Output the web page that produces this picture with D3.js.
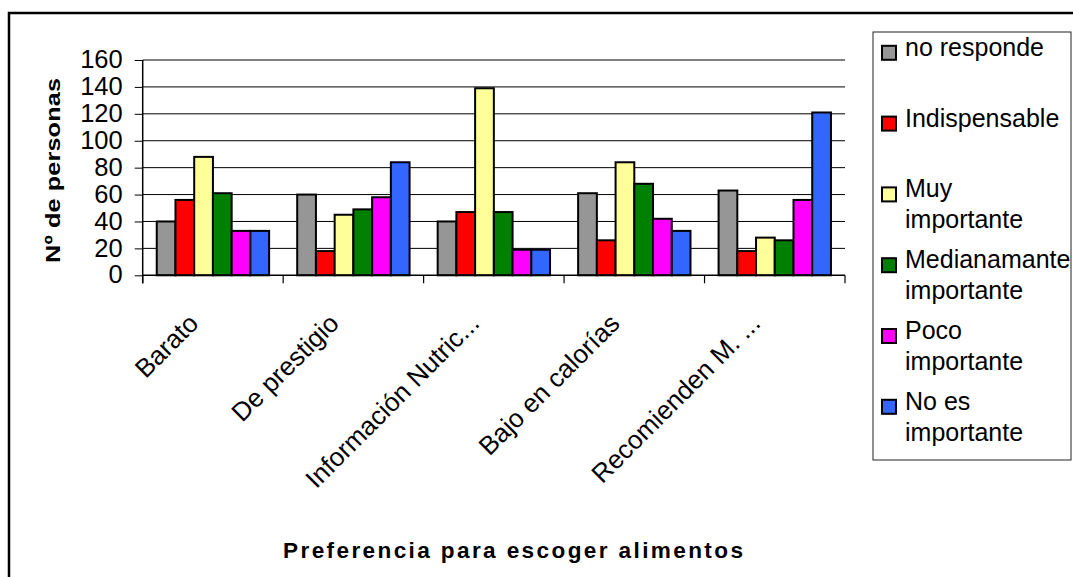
<!DOCTYPE html>
<html>
<head>
<meta charset="utf-8">
<script src="https://cdn.jsdelivr.net/npm/d3@7"></script>
<style>
  html, body { margin: 0; padding: 0; background: #fff; }
  svg { display: block; font-family: "Liberation Sans", Arial, sans-serif; }
</style>
</head>
<body>
<svg id="chart" width="1073" height="577"></svg>
<script>
// Categories (reasons for choosing food) and the answer series
const categories = ["Barato", "De prestigio", "Información Nutric...", "Bajo en calorías", "Recomienden M. ..."];
const seriesNames = ["no responde", "Indispensable", "Muy importante", "Medianamante importante", "Poco importante", "No es importante"];
const seriesColors = ["#969696", "#ff0000", "#ffff99", "#008000", "#ff00ff", "#3366ff"];

const noResponde     = [40, 60, 40, 61, 63];
const indispensable  = [56, 18, 47, 26, 18];
const muyImportante  = [88, 45, 139, 84, 28];
const medianamente   = [61, 49, 47, 68, 26];
const pocoImportante = [33, 58, 19, 42, 56];
const noEsImportante = [33, 84, 19, 33, 121];

const yTicks = [0, 20, 40, 60, 80, 100, 120, 140, 160];
const yTitle = "Nº de personas";
const xTitle = "Preferencia para escoger alimentos";

const seriesValues = [noResponde, indispensable, muyImportante, medianamente, pocoImportante, noEsImportante];
const rows = categories.map((c, i) => ({
  cat: c,
  vals: seriesNames.map((s, j) => ({ key: s, value: seriesValues[j][i], color: seriesColors[j] }))
}));

const svg = d3.select("#chart");
const fontSize = 25;

// outer chart frame
svg.append("rect")
  .attr("x", 9).attr("y", 13).attr("width", 1100).attr("height", 600)
  .attr("fill", "none").attr("stroke", "#000").attr("stroke-width", 2.5);

const plot = { left: 142.7, right: 845, top: 60, bottom: 275.3 };

const x0 = d3.scaleBand().domain(categories).range([plot.left, plot.right]).padding(0);
const x1 = d3.scaleBand().domain(seriesNames).range([0, x0.bandwidth()]).paddingInner(0).paddingOuter(0.75);
const y = d3.scaleLinear().domain([0, 160]).range([plot.bottom, plot.top]);

// horizontal gridlines
svg.append("g").selectAll("line").data(yTicks.filter(d => d > 0)).join("line")
  .attr("x1", plot.left).attr("x2", plot.right)
  .attr("y1", d => y(d)).attr("y2", d => y(d))
  .attr("stroke", "#000").attr("stroke-width", 1);

// value axis
const yAxis = svg.append("g")
  .attr("transform", `translate(${plot.left},0)`)
  .call(d3.axisLeft(y).tickValues(yTicks).tickSize(8).tickPadding(12).tickFormat(d3.format("d")));
yAxis.select(".domain").remove();
yAxis.selectAll(".tick line").attr("stroke", "#000");
yAxis.selectAll(".tick text")
  .attr("font-family", "Liberation Sans, Arial, sans-serif")
  .attr("font-size", 25.5).attr("fill", "#000").attr("dy", "0.3em");

// bars
const groups = svg.append("g").selectAll("g").data(rows).join("g")
  .attr("transform", d => `translate(${x0(d.cat)},0)`);
groups.selectAll("rect").data(d => d.vals).join("rect")
  .attr("x", d => x1(d.key))
  .attr("y", d => y(d.value))
  .attr("width", x1.bandwidth())
  .attr("height", d => y(0) - y(d.value))
  .attr("fill", d => d.color)
  .attr("stroke", "#000").attr("stroke-width", 2);

// axis lines
svg.append("line")
  .attr("x1", plot.left).attr("x2", plot.left)
  .attr("y1", plot.top).attr("y2", plot.bottom + 8)
  .attr("stroke", "#000").attr("stroke-width", 1.5);
svg.append("line")
  .attr("x1", plot.left).attr("x2", plot.right)
  .attr("y1", plot.bottom).attr("y2", plot.bottom)
  .attr("stroke", "#000").attr("stroke-width", 1.5);

// category boundary ticks
const boundaries = categories.map(c => x0(c)).concat([x0(categories[categories.length - 1]) + x0.bandwidth()]);
svg.append("g").selectAll("line").data(boundaries).join("line")
  .attr("x1", d => d).attr("x2", d => d)
  .attr("y1", plot.bottom).attr("y2", plot.bottom + 8)
  .attr("stroke", "#000").attr("stroke-width", 1.2);

// rotated category labels
svg.append("g").selectAll("text").data(categories).join("text")
  .attr("transform", d => `translate(${x0(d) + x0.bandwidth() / 2 - 13},325) rotate(-45)`)
  .attr("text-anchor", "end")
  .attr("font-size", 26)
  .attr("fill", "#000")
  .text(d => d);

// axis titles (wide bold lettering)
svg.append("text")
  .attr("transform", "translate(60,170.5) rotate(-90) scale(1.2,1)")
  .attr("text-anchor", "middle")
  .attr("font-size", 21).attr("font-weight", "bold")
  .attr("textLength", 154).attr("lengthAdjust", "spacing")
  .text(yTitle);

svg.append("text")
  .attr("transform", "translate(513,558) scale(1.05,1)")
  .attr("text-anchor", "middle")
  .attr("font-size", 21.5).attr("font-weight", "bold")
  .attr("textLength", 438).attr("lengthAdjust", "spacing")
  .text(xTitle);

// legend
const legend = svg.append("g");
legend.append("rect")
  .attr("x", 873).attr("y", 32).attr("width", 198).attr("height", 428)
  .attr("fill", "#fff").attr("stroke", "#222").attr("stroke-width", 1);

const legendItems = legend.selectAll("g").data(seriesNames).join("g")
  .attr("transform", (d, i) => `translate(0,${55.8 + 70.8 * i})`);
legendItems.append("rect")
  .attr("x", 882).attr("y", -10).attr("width", 14).attr("height", 14)
  .attr("fill", (d, i) => seriesColors[i])
  .attr("stroke", "#000").attr("stroke-width", 2);

// greedy word wrap for legend labels wider than the box allows
const maxLabelWidth = 160;
legendItems.append("text")
  .attr("x", 905).attr("y", 0)
  .attr("font-size", fontSize).attr("fill", "#000")
  .each(function (d) {
    const t = d3.select(this);
    const words = d.split(" ");
    let line = [];
    let span = t.append("tspan").attr("x", 905).attr("dy", 0);
    words.forEach(w => {
      line.push(w);
      span.text(line.join(" "));
      if (line.length > 1 && span.node().getComputedTextLength() > maxLabelWidth) {
        line.pop();
        span.text(line.join(" "));
        line = [w];
        span = t.append("tspan").attr("x", 905).attr("dy", 31).text(w);
      }
    });
  });
</script>
</body>
</html>
